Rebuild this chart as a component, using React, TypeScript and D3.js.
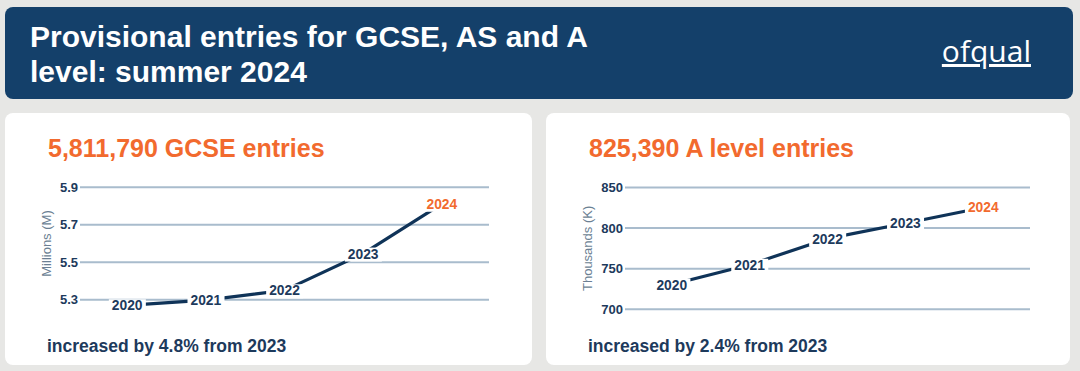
import React, { useEffect, useRef } from 'react';
import * as d3 from 'd3';

// values
const years = ['2020', '2021', '2022', '2023', '2024'];
const gcseValues = [5.27, 5.298, 5.35, 5.546, 5.812]; // millions
const gcseTicks = [5.3, 5.5, 5.7, 5.9];
const aLevelValues = [730.5, 754.8, 787.0, 806.0, 825.4]; // thousands
const aLevelTicks = [700, 750, 800, 850];

const W = 1080;
const H = 371;
const FONT = '"Liberation Sans", Arial, sans-serif';
const NAVY = '#14406a';
const TEXT = '#1d3a5c';
const ORANGE = '#f26a2e';
const LINE = '#0f3358';
const GRID = '#a9bccd';

function drawPanel(svg, opts) {
  const { x0, width, title, note, axisTitle, values, ticks, fmt, gridX, yRange } = opts;
  const g = svg.append('g');

  g.append('rect')
    .attr('x', x0).attr('y', 113)
    .attr('width', width).attr('height', 252)
    .attr('rx', 8)
    .attr('fill', '#ffffff');

  g.append('text')
    .attr('x', x0 + 43).attr('y', 157)
    .attr('fill', ORANGE)
    .style('font', `bold 25px ${FONT}`)
    .text(title);

  g.append('text')
    .attr('x', x0 + 42).attr('y', 352)
    .attr('fill', TEXT)
    .style('font', `bold 17.5px ${FONT}`)
    .text(note);

  let x = d3.scalePoint().domain(years).range(gridX).padding(0.6);
  let y = d3.scaleLinear().domain([ticks[0], ticks[ticks.length - 1]]).range(yRange);

  // gridlines + tick labels
  g.selectAll('.grid').data(ticks).join('line')
    .attr('class', 'grid')
    .attr('x1', gridX[0]).attr('x2', gridX[1])
    .attr('y1', d => y(d)).attr('y2', d => y(d))
    .attr('stroke', GRID).attr('stroke-width', 2);

  g.selectAll('.tick_lbl').data(ticks).join('text')
    .attr('class', 'tick_lbl')
    .attr('x', gridX[0] - 2).attr('y', d => y(d))
    .attr('dy', '0.35em')
    .attr('text-anchor', 'end')
    .attr('fill', TEXT)
    .style('font', `bold 13px ${FONT}`)
    .text(d => fmt(d));

  g.append('text')
    .attr('transform', `translate(${x0 + 41.5}, ${(yRange[0] + yRange[1]) / 2}) rotate(-90)`)
    .attr('dy', '0.35em')
    .attr('text-anchor', 'middle')
    .attr('fill', '#6b7f93')
    .style('font', `13px ${FONT}`)
    .text(axisTitle);

  const pts = years.map((yr, i) => [x(yr), y(values[i])]);
  g.append('path')
    .attr('d', d3.line()(pts))
    .attr('fill', 'none')
    .attr('stroke', LINE)
    .attr('stroke-width', 3.2)
    .attr('stroke-linejoin', 'round');

  // year labels sit on the points with a white box behind them
  const lbl = g.selectAll('.yr').data(years).join('g').attr('class', 'yr');
  const txt = lbl.append('text')
    .attr('x', (d, i) => pts[i][0])
    .attr('y', (d, i) => pts[i][1])
    .attr('dy', '0.36em')
    .attr('text-anchor', 'middle')
    .attr('fill', (d, i) => (i === years.length - 1 ? ORANGE : TEXT))
    .style('font', `bold 13.8px ${FONT}`)
    .text(d => d);
  txt.each(function () {
    const b = this.getBBox();
    d3.select(this.parentNode).insert('rect', 'text')
      .attr('x', b.x - 3).attr('y', b.y + 1)
      .attr('width', b.width + 6).attr('height', b.height - 1)
      .attr('fill', '#ffffff');
  });
}

export default function App() {
  const ref = useRef(null);

  useEffect(() => {
    const svg = d3.select(ref.current);
    svg.selectAll('*').remove();

    svg.append('rect').attr('width', W).attr('height', H).attr('fill', '#e7e7e5');

    // header bar
    svg.append('rect')
      .attr('x', 5).attr('y', 7)
      .attr('width', 1068).attr('height', 92)
      .attr('rx', 8)
      .attr('fill', NAVY);
    svg.append('text')
      .attr('x', 30).attr('y', 47)
      .attr('fill', '#ffffff')
      .style('font', `bold 30px ${FONT}`)
      .text('Provisional entries for GCSE, AS and A');
    svg.append('text')
      .attr('x', 30).attr('y', 81.5)
      .attr('fill', '#ffffff')
      .style('font', `bold 30px ${FONT}`)
      .text('level: summer 2024');

    svg.append('text')
      .attr('x', 1031).attr('y', 62)
      .attr('text-anchor', 'end')
      .attr('fill', '#ffffff')
      .style('font', '500 30px "Open Sans", sans-serif')
      .style('text-decoration', 'underline')
      .text('ofqual');

    drawPanel(svg, {
      x0: 5, width: 527,
      title: '5,811,790 GCSE entries',
      note: 'increased by 4.8% from 2023',
      axisTitle: 'Millions (M)',
      values: gcseValues, ticks: gcseTicks,
      fmt: d3.format('.1f'),
      gridX: [80, 489], yRange: [299.7, 187.3],
    });

    drawPanel(svg, {
      x0: 546, width: 524,
      title: '825,390 A level entries',
      note: 'increased by 2.4% from 2023',
      axisTitle: 'Thousands (K)',
      values: aLevelValues, ticks: aLevelTicks,
      fmt: d3.format('d'),
      gridX: [625, 1030], yRange: [309.3, 187.5],
    });
  }, []);

  return (
    <svg ref={ref} width={W} height={H} style={{ position: 'absolute', left: 0, top: 0 }} />
  );
}
